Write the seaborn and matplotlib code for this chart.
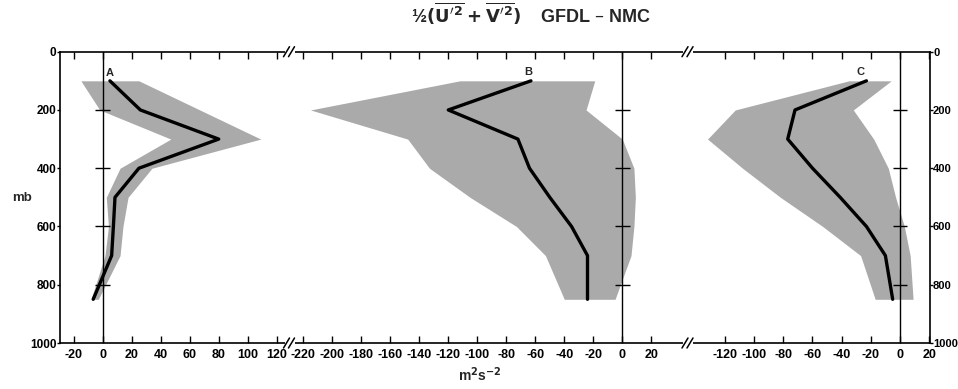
import matplotlib
matplotlib.use("Agg")
import matplotlib.pyplot as plt
from matplotlib.lines import Line2D
import seaborn as sns
import pandas as pd

# ---------------- data ----------------
pressure = [100, 200, 300, 400, 500, 600, 700, 850]

a_mean = [5, 26, 80, 25, 8.5, 7.4, 6.2, -6.5]
a_low = [-15, -2, 47, 12, 2.5, 4, 1.6, -8]
a_high = [25, 67, 109, 34, 17.5, 14, 12, -3]

b_mean = [-63, -120, -72, -64, -50, -35, -24, -24]
b_low = [-112, -215, -148, -133, -105, -73, -53, -40]
b_high = [-19, -25, 0, 8, 9, 8, 6, -5]

c_mean = [-23, -72, -77, -60, -41, -23, -10, -5]
c_low = [-35, -113, -132, -108, -82, -53, -27, -17]
c_high = [-6, -32, -18, -8, -3, 3, 7, 9]

a_ticks = [-20, 0, 20, 40, 60, 80, 100, 120]
b_ticks = [-220, -200, -180, -160, -140, -120, -100, -80, -60, -40, -20, 0, 20]
c_ticks = [-120, -100, -80, -60, -40, -20, 0, 20]
p_ticks = [0, 200, 400, 600, 800, 1000]
cross_levels = [200, 400, 600, 800]
panel_names = ["A", "B", "C"]

# ---------------- style ----------------
sns.set_theme(style="white")
plt.rcParams["font.family"] = ["Liberation Sans Narrow", "Liberation Sans", "DejaVu Sans"]
plt.rcParams["font.weight"] = "bold"
plt.rcParams["mathtext.fontset"] = "dejavusans"

W, H = 958, 389
fig = plt.figure(figsize=(W / 100, H / 100), dpi=100)

y_top, y_bot = 51.7, 343.0
bounds = [60, 289.5, 688, 930]
xlims = [(-29.4, 128.8), (-229.5, 45.3), (-145.4, 20.6)]
means = [a_mean, b_mean, c_mean]
lows = [a_low, b_low, c_low]
highs = [a_high, b_high, c_high]
ticks = [a_ticks, b_ticks, c_ticks]
label_pos = [(5, 72), (-65, 70), (-27, 68)]

shade = "#aaaaaa"
axes = []
for i in range(3):
    x0, x1 = bounds[i], bounds[i + 1]
    ax = fig.add_axes([x0 / W, 1 - y_bot / H, (x1 - x0) / W, (y_bot - y_top) / H])
    axes.append(ax)
    df = pd.DataFrame({"p": pressure, "v": means[i]})
    ax.fill_betweenx(pressure, lows[i], highs[i], color=shade, lw=0, zorder=1)
    ax.axvline(0, color="black", lw=1.0, zorder=2)
    ax.hlines(cross_levels, -5, 5, color="black", lw=1.0, zorder=2)
    sns.lineplot(data=df, x="v", y="p", orient="y", sort=False, color="black",
                 lw=2.4, ax=ax, zorder=3)
    ax.set_xlim(*xlims[i])
    ax.set_ylim(1000, 0)
    ax.set_xlabel("")
    ax.set_ylabel("")
    ax.set_xticks(ticks[i])
    ax.set_xticklabels([str(t) for t in ticks[i]], fontsize=9, fontweight="bold")
    ax.tick_params(axis="x", direction="in", length=5, width=1, top=True,
                   bottom=True, pad=4, colors="black")
    ax.set_yticks(p_ticks)
    ax.tick_params(axis="y", direction="out", length=2, width=1, left=(i == 0),
                   right=(i == 2), labelleft=(i == 0), labelright=(i == 2),
                   labelsize=8.5 if i == 0 else 8, pad=0.5 if i == 0 else 0.2,
                   colors="black")
    for lab in ax.get_yticklabels():
        lab.set_fontweight("bold")
    for s in ax.spines.values():
        s.set_color("black")
        s.set_linewidth(1.2)
    ax.spines["left"].set_visible(i == 0)
    ax.spines["right"].set_visible(i == 2)
    ax.patch.set_alpha(0)
    ax.text(label_pos[i][0], label_pos[i][1], panel_names[i], fontsize=8,
            fontweight="bold", ha="center", va="center")

# break marks
for bx in [bounds[1], bounds[2]]:
    for by in [y_top, y_bot]:
        fig.add_artist(plt.Rectangle(((bx - 5) / W, 1 - (by + 1.5) / H), 10 / W, 3 / H,
                                     transform=fig.transFigure, color="white", lw=0, zorder=5))
        for dx in (-3, 2):
            fig.add_artist(Line2D([(bx + dx - 3) / W, (bx + dx + 3) / W],
                                  [1 - (by + 5) / H, 1 - (by - 5) / H],
                                  transform=fig.transFigure, color="black", lw=1.1, zorder=6))

fig.text(531 / W, 1 - 14 / H,
         r"½$(\overline{\mathbf{U'}^{\mathbf{2}}}+\overline{\mathbf{V'}^{\mathbf{2}}})$    GFDL – NMC",
         ha="center", va="center", fontsize=13, fontweight="bold")
fig.text(22 / W, 1 - 198 / H, "mb", ha="center", va="center", fontsize=9.5, fontweight="bold")
fig.text(480 / W, 1 - 375 / H, r"m$^{\mathbf{2}}$s$^{\mathbf{-2}}$", ha="center", va="center",
         fontsize=10, fontweight="bold")

fig.savefig("out.png", dpi=100)
